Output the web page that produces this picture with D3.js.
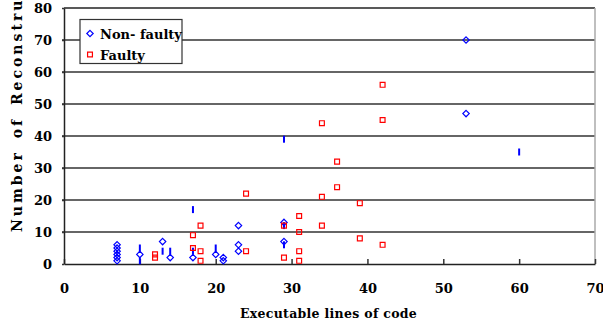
<!DOCTYPE html>
<html>
<head>
<meta charset="utf-8">
<script src="https://cdn.jsdelivr.net/npm/d3@7"></script>
<style>
  body { margin: 0; background: #fff; }
  text { font-family: "DejaVu Serif", serif; font-weight: bold; }
</style>
</head>
<body>
<svg width="603" height="329"></svg>
<script>
// Data

const nonFaulty = [
    [7, 1], [7, 2], [7, 3], [7, 4], [7, 5], [7, 6],
    [10, 3], [13, 7], [14, 2], [17, 2], [20, 3], [21, 1], [21, 2],
    [23, 4], [23, 6], [23, 12], [29, 7], [29, 13], [53, 47], [53, 70]
];
// non-faulty points the original drew as thin vertical marks
const nonFaultyDash = [
    [10, 1], [10, 5], [13, 4], [14, 4], [17, 4], [17, 17], [20, 5],
    [29, 6], [29, 12], [29, 39], [60, 35]
];
const faulty = [
    [12, 2], [12, 3], [17, 5], [17, 9], [18, 1], [18, 4], [18, 12],
    [24, 4], [24, 22], [29, 2], [29, 12], [31, 1], [31, 4], [31, 10], [31, 15],
    [34, 12], [34, 21], [34, 44], [36, 24], [36, 32], [39, 8], [39, 19],
    [42, 6], [42, 45], [42, 56]
];
const xTicks = [0, 10, 20, 30, 40, 50, 60, 70];
const yTicks = [0, 10, 20, 30, 40, 50, 60, 70, 80];
const seriesNames = ["Non- faulty", "Faulty"];

// Layout

const margin = {left: 64, right: 8, top: 8, bottom: 65};
const width = 603, height = 329;

const svg = d3.select("svg");

const x = d3.scaleLinear().domain([0, 70]).range([margin.left, width - margin.right]);
const y = d3.scaleLinear().domain([0, 80]).range([height - margin.bottom, margin.top]);

// gridlines
svg.append("g").selectAll("line")
    .data(yTicks.filter(d => d > 0 && d < 80))
    .enter().append("line")
    .attr("x1", x(0) - 2).attr("x2", x(70))
    .attr("y1", d => y(d)).attr("y2", d => y(d))
    .attr("stroke", "#333").attr("stroke-width", 1.5);

// frame: top black, right gray
svg.append("line").attr("x1", x(0)).attr("x2", x(70)).attr("y1", y(80)).attr("y2", y(80))
    .attr("stroke", "#222").attr("stroke-width", 1.5);
svg.append("line").attr("x1", x(70)).attr("x2", x(70)).attr("y1", y(80)).attr("y2", y(0))
    .attr("stroke", "#aaa").attr("stroke-width", 1.5);

// axes
const xAxis = svg.append("g")
    .attr("transform", `translate(0,${y(0)})`)
    .call(d3.axisBottom(x).tickValues(xTicks).tickSizeInner(-5).tickSizeOuter(0).tickPadding(20));
const yAxis = svg.append("g")
    .attr("transform", `translate(${x(0)},0)`)
    .call(d3.axisLeft(y).tickValues(yTicks).tickSizeInner(2).tickSizeOuter(0).tickPadding(10));

[xAxis, yAxis].forEach(g => {
    g.select(".domain").attr("stroke", "#222").attr("stroke-width", 1.5);
    g.selectAll(".tick line").attr("stroke", "#333").attr("stroke-width", 1.5);
    g.selectAll(".tick text").attr("fill", "#000").style("font-size", "13px")
        .style("font-family", "DejaVu Serif").style("font-weight", "bold");
});

// axis titles
svg.append("text")
    .attr("x", (x(0) + x(70)) / 2 - 1).attr("y", 318)
    .attr("text-anchor", "middle").attr("font-size", 12.5)
    .attr("letter-spacing", 0.3)
    .text("Executable lines of code");
svg.append("text")
    .attr("transform", "translate(22,232) rotate(-90)")
    .attr("font-size", 14)
    .attr("letter-spacing", 3)
    .attr("word-spacing", 4)
    .text("Number of Reconstructions");

// markers
const diamond = d3.symbol().type(d3.symbolDiamond2).size(26);
const square = d3.symbol().type(d3.symbolSquare2).size(30);

svg.append("g").selectAll("line")
    .data(nonFaultyDash)
    .enter().append("line")
    .attr("x1", d => x(d[0])).attr("x2", d => x(d[0]))
    .attr("y1", d => y(d[1]) - 3.5).attr("y2", d => y(d[1]) + 3.5)
    .attr("stroke", "#0000ff").attr("stroke-width", 2);

svg.append("g").selectAll("path")
    .data(nonFaulty)
    .enter().append("path")
    .attr("d", diamond)
    .attr("transform", d => `translate(${x(d[0])},${y(d[1])})`)
    .attr("fill", "none").attr("stroke", "#0000ff").attr("stroke-width", 1.2);

svg.append("g").selectAll("path")
    .data(faulty)
    .enter().append("path")
    .attr("d", square)
    .attr("transform", d => `translate(${x(d[0])},${y(d[1])})`)
    .attr("fill", "none").attr("stroke", "#ff0000").attr("stroke-width", 1.2);

// legend
const legend = svg.append("g");
legend.append("rect")
    .attr("x", 80).attr("y", 19.5).attr("width", 102).attr("height", 44)
    .attr("fill", "#fff").attr("stroke", "#333").attr("stroke-width", 1.2);
const entries = legend.selectAll("g.entry")
    .data(seriesNames)
    .enter().append("g").attr("class", "entry")
    .attr("transform", (d, i) => `translate(90,${33.5 + i * 21})`);
entries.append("path")
    .attr("d", (d, i) => (i === 0 ? diamond : square)())
    .attr("fill", "none")
    .attr("stroke", (d, i) => i === 0 ? "#0000ff" : "#ff0000")
    .attr("stroke-width", 1.2);
entries.append("text")
    .attr("x", 10).attr("y", 5)
    .attr("font-size", 13)
    .text(d => d);
</script>
</body>
</html>
